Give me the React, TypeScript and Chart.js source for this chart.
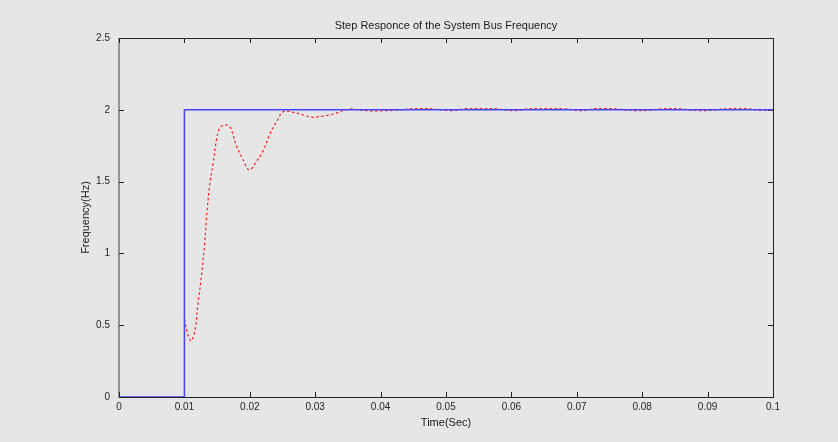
import { useEffect, useRef } from "react";
import { Chart, registerables } from "chart.js";

Chart.register(...registerables);

const chartTitle = "Step Responce of the System Bus Frequency";
const xAxisTitle = "Time(Sec)";
const yAxisTitle = "Frequency(Hz)";

const xTickValues = [0, 0.01, 0.02, 0.03, 0.04, 0.05, 0.06, 0.07, 0.08, 0.09, 0.1];
const xTickLabels = ["0", "0.01", "0.02", "0.03", "0.04", "0.05", "0.06", "0.07", "0.08", "0.09", "0.1"];
const yTickValues = [0, 0.5, 1, 1.5, 2, 2.5];
const yTickLabels = ["0", "0.5", "1", "1.5", "2", "2.5"];

// Blue reference step input
const stepTime = [0, 0.01, 0.01, 0.1];
const stepValue = [0, 0, 2, 2];

// Red dashed system response
const responseTime = [
  0.01, 0.0105, 0.011, 0.0116, 0.0121, 0.0126, 0.0131, 0.0134, 0.0139, 0.0144,
  0.0149, 0.0154, 0.016, 0.0166, 0.0171, 0.018, 0.019, 0.0199, 0.021, 0.0221,
  0.0231, 0.0241, 0.0251, 0.0267, 0.0282, 0.0295, 0.0312, 0.0328, 0.0343, 0.0356,
  0.0368, 0.0384, 0.0393, 0.0402, 0.042, 0.0445, 0.0462, 0.048, 0.05, 0.0515,
  0.0527, 0.0552, 0.0578, 0.0595, 0.0612, 0.0626, 0.0652, 0.0681, 0.07, 0.0715,
  0.0725, 0.0742, 0.0761, 0.078, 0.081, 0.0829, 0.0843, 0.0859, 0.088, 0.0905,
  0.0927, 0.0945, 0.0963, 0.098, 0.1,
];
const responseValue = [
  0.54, 0.44, 0.39, 0.46, 0.66, 0.84, 1.07, 1.26, 1.49, 1.63,
  1.79, 1.875, 1.893, 1.892, 1.87, 1.743, 1.65, 1.581, 1.639, 1.72,
  1.836, 1.917, 1.987, 1.982, 1.964, 1.948, 1.957, 1.971, 1.994, 2.007,
  1.997, 1.993, 1.991, 1.994, 1.996, 2.007, 2.008, 2.007, 1.996, 1.996,
  2.007, 2.008, 2.007, 1.996, 1.996, 2.007, 2.008, 2.007, 1.996, 1.996,
  2.007, 2.008, 2.007, 1.996, 1.996, 2.007, 2.008, 2.007, 1.996, 1.996,
  2.007, 2.008, 2.007, 1.996, 1.996,
];

const FONT = "'Liberation Sans', Arial, Helvetica, sans-serif";
const BG = "#e6e6e6";
const AXIS = "#222222";

const bgPlugin = {
  id: "bgFill",
  beforeDraw(chart: any) {
    const ctx = chart.ctx;
    ctx.save();
    ctx.fillStyle = BG;
    ctx.fillRect(0, 0, chart.width, chart.height);
    ctx.restore();
  },
};

const boxPlugin = {
  id: "matlabBox",
  beforeDatasetsDraw(chart: any) {
    const { ctx, chartArea } = chart;
    const { left, right, top, bottom } = chartArea;
    const xs = chart.scales.x;
    const ys = chart.scales.y;
    const tl = 5;
    ctx.save();
    ctx.strokeStyle = AXIS;
    ctx.lineWidth = 1;
    ctx.beginPath();
    ctx.moveTo(left, top + 0.5);
    ctx.lineTo(right + 1, top + 0.5);
    ctx.moveTo(right + 0.5, top);
    ctx.lineTo(right + 0.5, bottom + 1);
    ctx.moveTo(left, bottom + 0.5);
    ctx.lineTo(right + 1, bottom + 0.5);
    ctx.stroke();
    ctx.beginPath();
    ctx.strokeStyle = "#444444";
    ctx.moveTo(left, top);
    ctx.lineTo(left, bottom + 1);
    ctx.stroke();
    ctx.strokeStyle = AXIS;
    ctx.beginPath();
    xTickValues.forEach((v) => {
      const px = Math.round(xs.getPixelForValue(v)) + 0.5;
      ctx.moveTo(px, bottom);
      ctx.lineTo(px, bottom - tl);
      ctx.moveTo(px, top);
      ctx.lineTo(px, top + tl);
    });
    yTickValues.forEach((v) => {
      const py = Math.round(ys.getPixelForValue(v)) + 0.5;
      ctx.moveTo(left, py);
      ctx.lineTo(left + tl, py);
      ctx.moveTo(right, py);
      ctx.lineTo(right - tl, py);
    });
    ctx.stroke();
    ctx.restore();
  },
};

export default function App() {
  const canvasRef = useRef<HTMLCanvasElement | null>(null);

  useEffect(() => {
    document.body.style.margin = "0";
    document.body.style.background = BG;
    const canvas = canvasRef.current;
    if (!canvas) return;

    const chart = new Chart(canvas, {
      type: "line",
      data: {
        datasets: [
          {
            label: "Step",
            data: stepTime.map((t, i) => ({ x: t, y: stepValue[i] })),
            borderColor: "#4444ff",
            borderWidth: 1.5,
            pointRadius: 0,
            tension: 0,
            fill: false,
          },
          {
            label: "Response",
            data: responseTime.map((t, i) => ({ x: t, y: responseValue[i] })),
            borderColor: "#ff1a1a",
            borderWidth: 1.2,
            borderDash: [2.5, 2.5],
            pointRadius: 0,
            tension: 0.35,
            fill: false,
          },
        ],
      },
      options: {
        animation: false,
        responsive: false,
        devicePixelRatio: 1,
        layout: { padding: { left: 0, right: 65, top: 0, bottom: 0 } },
        plugins: {
          legend: { display: false },
          tooltip: { enabled: false },
          title: {
            display: true,
            text: chartTitle,
            fullSize: false,
            color: "#1a1a1a",
            font: { family: FONT, size: 11, weight: "normal", lineHeight: 1.2 },
            padding: { top: 18.9, bottom: 5.9 },
          },
        },
        scales: {
          x: {
            type: "linear",
            min: 0,
            max: 0.1,
            grid: { display: false, drawTicks: false },
            border: { display: false },
            afterBuildTicks: (scale: any) => {
              scale.ticks = xTickValues.map((v) => ({ value: v }));
            },
            afterFit: (scale: any) => {
              scale.height = 45;
              scale.paddingLeft = 0;
              scale.paddingRight = 0;
            },
            ticks: {
              autoSkip: false,
              maxRotation: 0,
              minRotation: 0,
              padding: 4,
              color: "#262626",
              font: { family: FONT, size: 10 },
              callback: (_v: any, i: number) => xTickLabels[i],
            },
            title: {
              display: true,
              text: xAxisTitle,
              color: "#1a1a1a",
              font: { family: FONT, size: 11, lineHeight: 1.2 },
              padding: { top: 0, bottom: 12.4 },
            },
          },
          y: {
            type: "linear",
            min: 0,
            max: 2.5,
            grid: { display: false, drawTicks: false },
            border: { display: false },
            afterBuildTicks: (scale: any) => {
              scale.ticks = yTickValues.map((v) => ({ value: v }));
            },
            afterFit: (scale: any) => {
              scale.width = 119;
              scale.paddingTop = 0;
              scale.paddingBottom = 0;
            },
            ticks: {
              autoSkip: false,
              padding: 9,
              color: "#262626",
              font: { family: FONT, size: 10 },
              callback: (_v: any, i: number) => yTickLabels[i],
            },
            title: {
              display: true,
              text: yAxisTitle,
              color: "#1a1a1a",
              font: { family: FONT, size: 11, lineHeight: 1.2 },
              padding: { top: 78.9, bottom: 0 },
            },
          },
        },
      },
      plugins: [bgPlugin, boxPlugin],
    } as any);

    return () => {
      chart.destroy();
    };
  }, []);

  return (
    <div style={{ position: "absolute", left: 0, top: 0, width: 838, height: 442, background: BG }}>
      <canvas ref={canvasRef} width={838} height={442} style={{ display: "block", width: 838, height: 442 }} />
    </div>
  );
}
